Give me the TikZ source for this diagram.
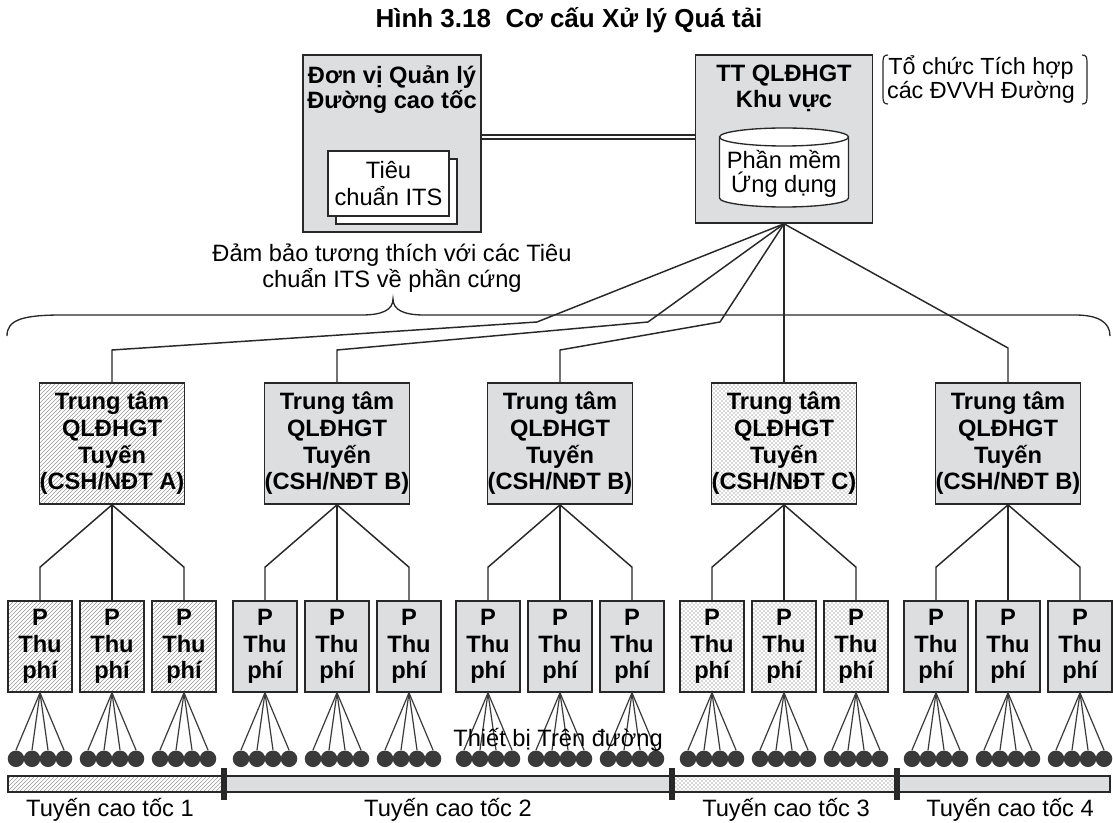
\documentclass[tikz,border=0pt]{standalone}
\usepackage{fontspec}
\setmainfont{Liberation Sans}
\usetikzlibrary{patterns,calc}

\definecolor{boxgray}{RGB}{221,222,224}
\definecolor{linec}{RGB}{40,40,40}
\definecolor{dotc}{RGB}{58,58,58}

\tikzset{every picture/.style={line width=0.75pt}}
\tikzset{
  box/.style={draw=linec, line width=1.2pt, inner sep=0pt},
  grayfill/.style={fill=boxgray},
  hatchfill/.style={pattern=north east lines, pattern color=black!40},
  dotfill/.style={pattern=crosshatch dots, pattern color=black!65},
  centre/.style={box, minimum width=108.75pt, minimum height=90.75pt, align=center, font=\bfseries\fontsize{17.75}{20}\selectfont},
  booth/.style={box, minimum width=48pt, minimum height=68.25pt, align=center, font=\bfseries\fontsize{17.75}{20}\selectfont},
  dev/.style={circle, fill=dotc, inner sep=0pt, minimum size=12.4pt},
  link/.style={draw=linec, line width=1.1pt},
  feed/.style={draw=dotc, line width=0.9pt},
  lbl/.style={inner sep=0pt, align=center, font=\fontsize{17.75}{20}\selectfont},
  hdr/.style={inner sep=0pt, align=center, font=\bfseries\fontsize{17.75}{19}\selectfont},
}

\begin{document}
\begin{tikzpicture}[x=0.75pt,y=0.75pt,yscale=-1]
\useasboundingbox (0,0) rectangle (1113,823);

% Title
\node[hdr, font=\bfseries\fontsize{19.5}{22}\selectfont] (title) at (569,20) {Hình 3.18\ \ Cơ cấu Xử lý Quá tải};

%Shape: Management unit
\node[box, grayfill, minimum width=133.5pt, minimum height=132.75pt] (mgmt) at (392,143.5) {};
\node[hdr] (mgmttxt) at (392,89.5) {Đơn vị Quản lý\\Đường cao tốc};
\node[box, line width=1pt, fill=white, minimum width=90.75pt, minimum height=48.75pt] (stdback) at (396.5,191.5) {};
\node[box, line width=1pt, fill=white, minimum width=90.75pt, minimum height=48.75pt, align=center, font=\fontsize{17.75}{20}\selectfont] (std) at (388.5,183.5) {Tiêu\\chuẩn ITS};

%Shape: Regional centre
\node[box, grayfill, minimum width=132.75pt, minimum height=126pt] (reg) at (784,139) {};
\node[hdr] (regtxt) at (784,88.5) {TT QLĐHGT\\Khu vực};
%Shape: Can
\draw[draw=linec, line width=1pt, fill=white] (719.5,137) -- (719.5,198) arc (180:0:64.5 and 9) -- (848.5,137) arc (0:-180:64.5 and 9) -- cycle;
\draw[draw=linec, line width=1pt] (719.5,137) arc (180:0:64.5 and 9);
\node[lbl, font=\fontsize{17.75}{18}\selectfont] (app) at (784,174) {Phần mềm\\Ứng dụng};

% Double link
\coordinate (lnk) at (590,137);
\draw[draw=linec, line width=1pt, double=white, double distance=2pt] (mgmt.east |- lnk) -- (reg.west |- lnk);

% Text Node
\node[lbl, font=\fontsize{17.5}{18}\selectfont] (note) at (981,80) {Tổ chức Tích hợp\\các ĐVVH Đường};
\draw[draw=linec, line width=0.9pt] (888,55) .. controls (884,55) and (883,57) .. (883,62) -- (883,97) .. controls (883,102) and (884,104) .. (888,104);
\draw[draw=linec, line width=0.9pt] (1082,55) .. controls (1086,55) and (1087,57) .. (1087,62) -- (1087,97) .. controls (1087,102) and (1086,104) .. (1082,104);

% Text Node
\node[lbl, font=\fontsize{17.75}{17.5}\selectfont] (compat) at (392,268) {Đảm bảo tương thích với các Tiêu\\chuẩn ITS về phần cứng};
%Curve Lines: brace
\draw[draw=linec, line width=1pt] (7,336) .. controls (7,320) and (22,315) .. (62,315) -- (362,315) .. controls (382,315) and (393,310) .. (393,299) .. controls (393,310) and (404,315) .. (424,315) -- (1075,315) .. controls (1098,315) and (1110,322) .. (1110,336);

% Route centres
\foreach \r/\c/\o/\f in {1/112/A/hatchfill, 2/337/B/grayfill, 3/560/B/grayfill, 4/784/C/dotfill, 5/1008/B/grayfill}{
  \node[centre, \f] (rc\r) at (\c,443.5) {Trung tâm\\QLĐHGT\\Tuyến\\(CSH/NĐT \o)};
  \node[booth, \f] (b\r1) at (\c-72,646.5) {P\\Thu\\phí};
  \node[booth, \f] (b\r2) at (\c,646.5) {P\\Thu\\phí};
  \node[booth, \f] (b\r3) at (\c+72,646.5) {P\\Thu\\phí};
}

% Links from regional centre
\draw[link] (reg.south) -- (537,322) -- (112,350) -- (rc1.north);
\draw[link] (reg.south) -- (648,322) -- (337,350) -- (rc2.north);
\draw[link] (reg.south) -- (720,322) -- (560,350) -- (rc3.north);
\draw[link] (reg.south) -- (rc4.north);
\draw[link] (reg.south) -- (1008,348) -- (rc5.north);

% Links to toll plazas and roadside devices
\foreach \r in {1,...,5}{
  \draw[link] (rc\r.south) -- ($(b\r1.north)+(0,-33)$) -- (b\r1.north);
  \draw[link] (rc\r.south) -- (b\r2.north);
  \draw[link] (rc\r.south) -- ($(b\r3.north)+(0,-33)$) -- (b\r3.north);
  \foreach \k in {1,2,3}{
    \foreach \j/\dx in {1/-24,2/-8,3/8,4/24}{
      \node[dev] (d\r\k\j) at ($(b\r\k.south)+(\dx,66)$) {};
      \draw[feed] (b\r\k.south) -- (d\r\k\j.north);
    }
  }
}

% Text Node
\node[lbl] (devtxt) at (558,740) {Thiết bị Trên đường};

%Shape: Road bar
\draw[box, hatchfill] (8,776) rectangle (224,792);
\draw[box, grayfill] (224,776) rectangle (672,792);
\draw[box, dotfill] (672,776) rectangle (897,792);
\draw[box, grayfill] (897,776) rectangle (1110,792);
\fill[linec] (221,768) rectangle (227,800);
\fill[linec] (669,768) rectangle (675,800);
\fill[linec] (894,768) rectangle (900,800);

% Text Node
\node[lbl] (road1) at (110,810) {Tuyến cao tốc 1};
\node[lbl] (road2) at (448,810) {Tuyến cao tốc 2};
\node[lbl] (road3) at (786,810) {Tuyến cao tốc 3};
\node[lbl] (road4) at (1010,810) {Tuyến cao tốc 4};

\end{tikzpicture}
\end{document}
